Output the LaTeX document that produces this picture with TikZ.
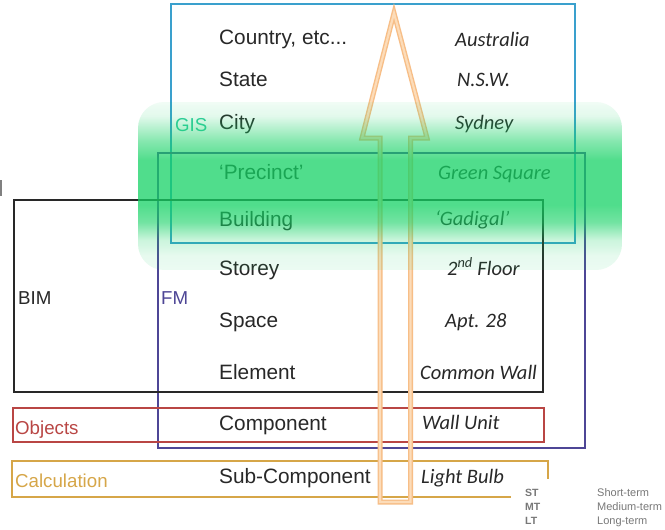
\documentclass[tikz,border=0pt]{standalone}
\usepackage{fontspec}
\setmainfont{Liberation Sans}
\newfontfamily\valfont{Carlito}

\definecolor{gisblue}{RGB}{58,160,205}
\definecolor{fmpurple}{RGB}{78,70,150}
\definecolor{bimdark}{RGB}{40,40,40}
\definecolor{objred}{RGB}{185,70,68}
\definecolor{calcgold}{RGB}{214,166,72}
\definecolor{bandgreen}{RGB}{20,210,100}
\definecolor{arrowpeach}{RGB}{247,190,135}
\definecolor{arrowlight}{RGB}{252,220,185}
\definecolor{gislabel}{RGB}{50,205,160}
\definecolor{legendgray}{RGB}{120,120,120}

\tikzset{
  frame/.style={line width=1.8pt},
  level/.style={anchor=base west, inner sep=0pt, font=\fontsize{20.8}{23}\selectfont, text=bimdark},
  value/.style={anchor=base west, inner sep=0pt, font=\valfont\itshape\fontsize{20.5}{23}\selectfont, text=bimdark},
  tag/.style={anchor=base west, inner sep=0pt, font=\fontsize{18.7}{21}\selectfont},
  legkey/.style={anchor=base west, inner sep=0pt, font=\bfseries\fontsize{10.5}{12}\selectfont, text=legendgray},
  legtext/.style={anchor=base west, inner sep=0pt, font=\fontsize{11}{12}\selectfont, text=legendgray},
  hollowarrow/.style={draw=arrowpeach, line width=1.4pt, double=arrowlight,
    double distance=2.2pt, line join=miter},
}

\begin{document}
\begin{tikzpicture}[x=1pt, y=-1pt]
\useasboundingbox (0,0) rectangle (665,530);
\fill[white] (0,0) rectangle (665,530);

% nested scopes
\draw[frame, gisblue]  (171,4)   rectangle (575,243);
\draw[frame, fmpurple] (158,153) rectangle (585,448);
\draw[frame, bimdark]  (14,200)  rectangle (543,392);
\draw[frame, objred]   (13,408)  rectangle (544,442);
\draw[frame, calcgold] (12,461)  rectangle (548,497);
\draw[line width=1.5pt, gray] (1,180) -- (1,196);

% scope labels
\node[tag, text=gislabel]  (gis)  at (175,131.5) {GIS};
\node[tag, text=bimdark]   (bim)  at (18,304.5)  {BIM};
\node[tag, text=fmpurple]  (fm)   at (161,304.5) {FM};
\node[tag, text=objred]    (obj)  at (15,434.5)  {Objects};
\node[tag, text=calcgold]  (calc) at (15,487.5)  {Calculation};

% levels
\node[level] (l1)  at (219,45)  {Country, etc...};
\node[level] (l2)  at (219,86)  {State};
\node[level] (l3)  at (219,129) {City};
\node[level] (l4)  at (219,179) {‘Precinct’};
\node[level] (l5)  at (219,226) {Building};
\node[level] (l6)  at (219,275) {Storey};
\node[level] (l7)  at (219,327) {Space};
\node[level] (l8)  at (219,379) {Element};
\node[level] (l9)  at (219,430) {Component};
\node[level] (l10) at (219,483) {Sub-Component};

% examples
\node[value] (v1)  at (455,46)  {Australia};
\node[value] (v2)  at (457,86)  {N.S.W.};
\node[value] (v3)  at (455,129) {Sydney};
\node[value] (v4)  at (438,179) {Green Square};
\node[value] (v5)  at (435,225) {‘Gadigal’};
\node[value] (v6)  at (447,275) {2\textsuperscript{nd} Floor};
\node[value] (v7)  at (445,327) {Apt. 28};
\node[value] (v8)  at (420,379) {Common Wall};
\node[value] (v9)  at (422,429) {Wall Unit};
\node[value] (v10) at (421,483) {Light Bulb};

% hollow upward arrow
\draw[hollowarrow]
  (380,502) -- (380,138) -- (362,138) -- (394,13) -- (427,138)
  -- (410.5,138) -- (410.5,502) -- cycle;

% legend
\fill[white] (511,479) rectangle (665,530);
\node[legkey]  (st) at (525,496) {ST};
\node[legkey]  (mt) at (525,510) {MT};
\node[legkey]  (lt) at (525,524) {LT};
\node[legtext] (sttext) at (597,496) {Short-term};
\node[legtext] (mttext) at (597,510) {Medium-term};
\node[legtext] (lttext) at (597,524) {Long-term};

% translucent green band, built from 1pt strips with a piecewise-linear opacity
\begin{scope}
  \clip[rounded corners=26pt] (138,102) rectangle (622,270);
  \foreach \ya/\oa/\yb/\ob in {102/0.06/116/0.12, 116/0.12/140/0.50,
      140/0.50/160/0.74, 160/0.74/205/0.74, 205/0.74/222/0.60,
      222/0.60/240/0.22, 240/0.22/256/0.10, 256/0.10/270/0.08} {
    \pgfmathtruncatemacro\ylast{\yb-1}
    \foreach \yy in {\ya,...,\ylast} {
      \pgfmathsetmacro\op{\oa+(\ob-\oa)*(\yy-\ya)/(\yb-\ya)}
      \fill[bandgreen, fill opacity=\op] (138,\yy) rectangle (622,\yy+1);
    }
  }
\end{scope}
\end{tikzpicture}
\end{document}
